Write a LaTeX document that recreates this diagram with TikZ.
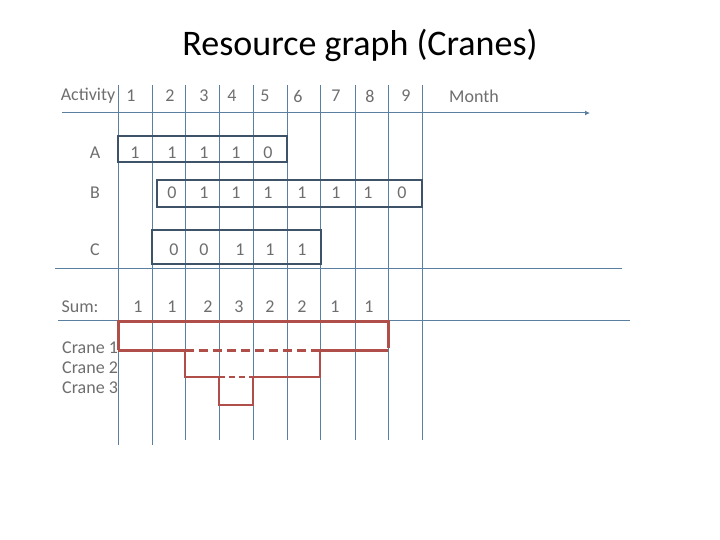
\documentclass[tikz,border=0pt]{standalone}
\usepackage{fontspec}
\setmainfont{Carlito}
\usetikzlibrary{arrows.meta}
\definecolor{gl}{HTML}{5B7FA0}
\definecolor{bx}{HTML}{3E5268}
\definecolor{rd}{HTML}{B04E4A}
\definecolor{tx}{HTML}{6E6E6E}
\begin{document}
\begin{tikzpicture}[x=1pt,y=-1pt,
  gline/.style={gl,line width=1pt},
  abox/.style={bx,line width=2.4pt},
  cr/.style={rd,line width=3pt},
  crt/.style={rd,line width=2.2pt},
  lbl/.style={text=tx,font=\fontsize{18}{20}\selectfont,inner sep=0pt}]
\useasboundingbox (0,0) rectangle (720,540);
\node[font=\fontsize{36}{40}\selectfont,inner sep=0pt] (title) at (360,45) {Resource graph (Cranes)};
% vertical grid lines
\foreach \x/\b in {118/445,152/445,185/440,219/440,253/440,287/440,320/440,355/440,388/440,422/440}
  \draw[gline] (\x,85) -- (\x,\b);
% horizontal lines
\coordinate (h1) at (62,113); \coordinate (h1e) at (590,113);
\draw[gline,-{Latex[length=5pt,width=5pt]}] (h1) -- (h1e);
\coordinate (h2) at (55,268); \coordinate (h2e) at (622,268);
\draw[gline] (h2) -- (h2e);
\coordinate (h3) at (58,320); \coordinate (h3e) at (630,320);
\draw[gline] (h3) -- (h3e);
% activity boxes
\draw[abox] (118,136) rectangle (287,162);
\draw[abox] (157,180) rectangle (422,207);
\draw[abox] (152,230) rectangle (321,264);
% header
\node[lbl] (act) at (88,96) {Activity};
\foreach \x/\t [count=\i] in {131/1,170/2,204/3,232/4,265/5,298/6,336/7,370/8,406/9}
  \node[lbl] (hd\i) at (\x,96) {\t};
\node[lbl] (month) at (474,96) {Month};
% rows
\node[lbl] (la) at (95,153) {A};
\foreach \x/\t [count=\i] in {135/1,172/1,204/1,236/1,268/0}
  \node[lbl] (a\i) at (\x,153) {\t};
\node[lbl] (lb) at (95,193) {B};
\foreach \x/\t [count=\i] in {172/0,204/1,236/1,268/1,302/1,336/1,368/1,402/0}
  \node[lbl] (b\i) at (\x,193) {\t};
\node[lbl] (lc) at (95,250) {C};
\foreach \x/\t [count=\i] in {174/0,204/0,240/1,270/1,302/1}
  \node[lbl] (c\i) at (\x,250) {\t};
\node[lbl] (ls) at (80,307) {Sum:};
\foreach \x/\t [count=\i] in {138/1,172/1,208/2,239/3,270/2,302/2,335/1,369/1}
  \node[lbl] (s\i) at (\x,307) {\t};
\node[lbl,anchor=west] (c1) at (62,348) {Crane 1};
\node[lbl,anchor=west] (c2) at (62,368) {Crane 2};
\node[lbl,anchor=west] (c3) at (62,388) {Crane 3};
% crane profile
\draw[cr] (118,350) -- (118,321) -- (388,321) -- (388,348);
\draw[cr] (118,350) -- (185,350);
\draw[cr,dashed,dash pattern=on 9pt off 5pt] (185,350) -- (320,350);
\draw[cr] (320,350) -- (388,350);
\draw[crt] (185,350) -- (185,377) -- (219,377);
\draw[crt,dashed,dash pattern=on 6pt off 4pt] (219,377) -- (253,377);
\draw[crt] (253,377) -- (320,377) -- (320,350);
\draw[crt] (219,377) -- (219,405) -- (253,405) -- (253,377);
\end{tikzpicture}
\end{document}
